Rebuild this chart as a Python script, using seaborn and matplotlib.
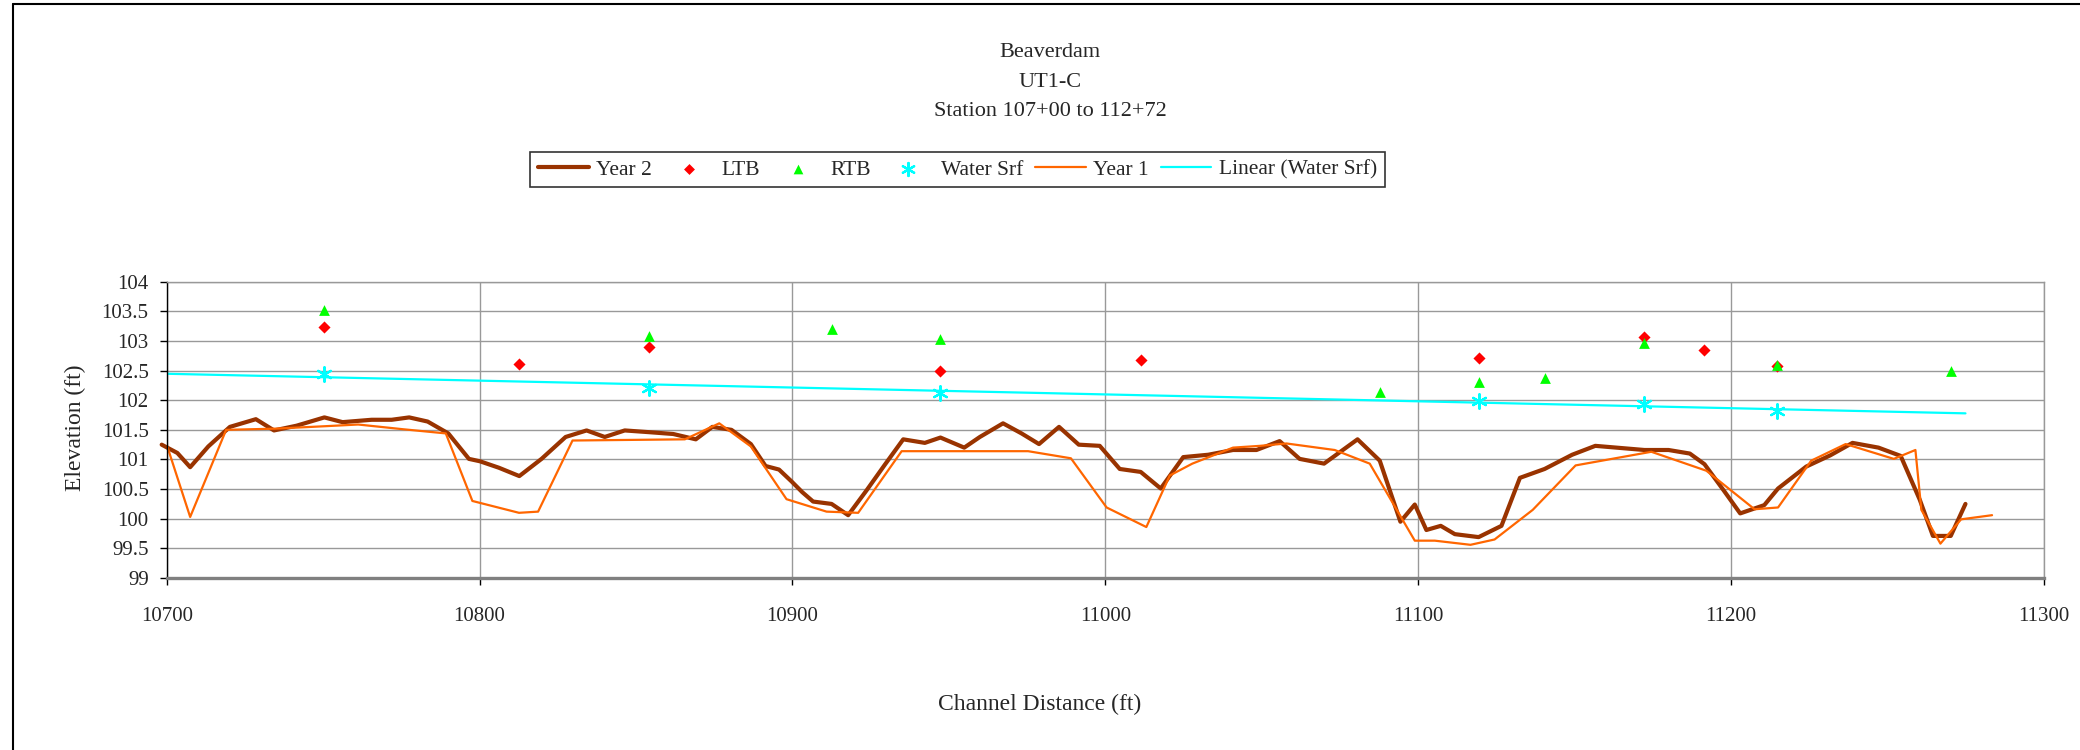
import numpy as np
import matplotlib
matplotlib.use('Agg')
import matplotlib.pyplot as plt
import seaborn as sns
from matplotlib.ticker import MultipleLocator, FormatStrFormatter
from matplotlib.lines import Line2D

# 데이터
year2_x = [10698.4, 10703.4, 10707.5, 10713.3, 10720.2, 10728.5, 10734.3, 10741.5, 10750.4, 10756.2,
           10765.5, 10771.9, 10777.5, 10783.4, 10790.0, 10796.6, 10800.1, 10806.2, 10812.7, 10819.8,
           10827.5, 10834.2, 10840.0, 10846.4, 10854.4, 10861.9, 10869.1, 10874.4, 10880.5, 10886.7,
           10891.4, 10895.7, 10899.7, 10903.1, 10906.6, 10912.5, 10917.8, 10923.7, 10929.5, 10935.4,
           10942.3, 10947.3, 10954.9, 10959.9, 10967.3, 10973.2, 10978.8, 10985.2, 10991.5, 10998.2,
           11004.6, 11011.3, 11017.7, 11024.9, 11032.9, 11040.8, 11048.3, 11055.7, 11062.1, 11069.9,
           11080.6, 11087.7, 11094.3, 11098.9, 11102.6, 11107.2, 11111.7, 11119.3, 11126.6, 11132.5,
           11140.4, 11149.2, 11156.6, 11172.3, 11180.0, 11186.8, 11191.5, 11197.6, 11202.9, 11210.6,
           11215.0, 11224.0, 11231.7, 11238.8, 11247.1, 11254.2, 11260.3, 11264.5, 11270.2, 11274.9]
year2_y = [101.25, 101.11, 100.87, 101.22, 101.55, 101.68, 101.49, 101.57, 101.71, 101.63,
           101.67, 101.67, 101.71, 101.64, 101.44, 101.01, 100.97, 100.86, 100.72, 101.01,
           101.38, 101.49, 101.38, 101.49, 101.46, 101.43, 101.34, 101.55, 101.50, 101.26,
           100.89, 100.83, 100.63, 100.45, 100.29, 100.25, 100.06, 100.48, 100.91, 101.34,
           101.28, 101.37, 101.20, 101.38, 101.61, 101.44, 101.26, 101.55, 101.25, 101.23,
           100.84, 100.79, 100.51, 101.04, 101.08, 101.16, 101.16, 101.31, 101.01, 100.93,
           101.34, 100.98, 99.95, 100.24, 99.81, 99.88, 99.74, 99.69, 99.88, 100.69,
           100.84, 101.08, 101.23, 101.16, 101.16, 101.10, 100.92, 100.48, 100.09, 100.23,
           100.51, 100.88, 101.07, 101.28, 101.20, 101.06, 100.32, 99.71, 99.71, 100.25]

year1_x = [10700.0, 10707.5, 10719.0, 10734.6, 10750.1, 10761.2, 10775.6, 10789.2, 10797.7, 10812.6,
           10818.7, 10829.7, 10865.6, 10876.6, 10886.7, 10898.1, 10910.9, 10921.0, 10934.9, 10975.3,
           10989.0, 11000.4, 11013.1, 11020.6, 11027.8, 11040.8, 11049.4, 11057.9, 11073.3, 11084.5,
           11098.9, 11105.3, 11116.7, 11124.4, 11136.6, 11150.3, 11174.5, 11192.1, 11207.5, 11215.0,
           11225.6, 11236.6, 11252.0, 11258.9, 11260.8, 11266.9, 11273.5, 11283.4]
year1_y = [101.25, 100.03, 101.50, 101.52, 101.56, 101.59, 101.51, 101.44, 100.30, 100.10,
           100.12, 101.32, 101.34, 101.61, 101.22, 100.33, 100.12, 100.10, 101.14, 101.14,
           101.02, 100.19, 99.86, 100.73, 100.93, 101.20, 101.23, 101.27, 101.16, 100.93,
           99.63, 99.63, 99.56, 99.65, 100.15, 100.90, 101.13, 100.81, 100.16, 100.19,
           100.98, 101.26, 101.01, 101.16, 100.15, 99.58, 99.99, 100.06]

ltb_x = [10750.3, 10812.6, 10854.2, 10947.3, 11011.3, 11119.4, 11172.0, 11191.4, 11214.8]
ltb_y = [103.24, 102.61, 102.89, 102.50, 102.68, 102.71, 103.07, 102.85, 102.58]

rtb_x = [10750.3, 10854.2, 10912.5, 10947.3, 11087.9, 11119.4, 11140.6, 11172.0, 11214.8, 11270.2]
rtb_y = [103.53, 103.09, 103.21, 103.03, 102.14, 102.31, 102.38, 102.97, 102.59, 102.50]

water_x = [10750.3, 10854.2, 10947.3, 11119.4, 11172.0, 11214.8]
water_y = [102.44, 102.21, 102.13, 101.99, 101.93, 101.82]

# 수면 선형 추세선
coef = np.polyfit(water_x, water_y, 1)
trend_x = [10700.0, year2_x[-1]]
trend_y = list(np.polyval(coef, trend_x))

sns.set_style('white')
plt.rcParams['font.family'] = ['Liberation Serif', 'DejaVu Serif']

fig = plt.figure(figsize=(20.8, 7.5), dpi=100)
ax = fig.add_axes([166.7 / 2080, 1 - 578 / 750, (2044 - 166.7) / 2080, (578 - 281.7) / 750])

sns.lineplot(x=year2_x, y=year2_y, ax=ax, color='#993300', lw=3.0, sort=False,
             estimator=None, label='Year 2', clip_on=False)
sns.scatterplot(x=ltb_x, y=ltb_y, ax=ax, marker='D', color='#FF0000', s=38,
                edgecolor='#FF0000', linewidth=0, label='LTB')
sns.scatterplot(x=rtb_x, y=rtb_y, ax=ax, marker='^', color='#00FF00', s=60,
                edgecolor='#00FF00', linewidth=0, label='RTB')
sns.scatterplot(x=water_x, y=water_y, ax=ax, marker=(6, 2, 0), color='#00FFFF', s=110,
                linewidth=1.6, label='Water Srf')
sns.lineplot(x=year1_x, y=year1_y, ax=ax, color='#FF6600', lw=1.6, sort=False,
             estimator=None, label='Year 1')
sns.lineplot(x=trend_x, y=trend_y, ax=ax, color='#00FFFF', lw=1.6, sort=False,
             estimator=None, label='Linear (Water Srf)')

ax.set_xlim(10700, 11300)
ax.set_ylim(99, 104)
ax.xaxis.set_major_locator(MultipleLocator(100))
ax.yaxis.set_major_locator(MultipleLocator(0.5))
ax.yaxis.set_major_formatter(FormatStrFormatter('%g'))
ax.grid(True, color='#999999', lw=1.0)
ax.set_axisbelow(True)
ax.set_xlabel('')
ax.set_ylabel('')

ax.spines['left'].set_color('black')
ax.spines['left'].set_linewidth(1.0)
ax.spines['bottom'].set_color('#808080')
ax.spines['bottom'].set_linewidth(2.4)
ax.spines['top'].set_color('#999999')
ax.spines['right'].set_color('#999999')
ax.spines['top'].set_linewidth(1.0)
ax.spines['right'].set_linewidth(1.0)

ax.tick_params(axis='both', direction='out', length=5, width=1, color='black',
               labelsize=15, bottom=True, left=True)
ax.tick_params(axis='x', pad=16)
ax.tick_params(axis='y', pad=8)

# 범례
handles, labels = ax.get_legend_handles_labels()
ax.get_legend().remove()
leg = fig.legend(handles, labels, ncol=6, loc='center',
                 bbox_to_anchor=(957.5 / 2080, 1 - 169.5 / 750),
                 frameon=True, fancybox=False, edgecolor='black', fontsize=15.5,
                 handlelength=2.35, handletextpad=0.35, columnspacing=0.55,
                 borderpad=0.35, markerscale=0.9)
leg.get_frame().set_linewidth(1.2)

# 제목 및 축 이름
fig.text(1050 / 2080, 1 - 56.7 / 750, 'Beaverdam', ha='center', va='baseline', fontsize=16)
fig.text(1050 / 2080, 1 - 86.7 / 750, 'UT1-C', ha='center', va='baseline', fontsize=16)
fig.text(1050 / 2080, 1 - 116 / 750, 'Station 107+00 to 112+72', ha='center', va='baseline', fontsize=16)
fig.text(75 / 2080, 1 - 428 / 750, 'Elevation (ft)', rotation=90, ha='center', va='center', fontsize=17)
fig.text(1040 / 2080, 1 - 704 / 750, 'Channel Distance (ft)', ha='center', va='center', fontsize=17)

# 차트 바깥 테두리
fig.add_artist(Line2D([12.7 / 2080, 1.0], [1 - 3.5 / 750] * 2, color='black', lw=1.5,
                      transform=fig.transFigure))
fig.add_artist(Line2D([12.7 / 2080] * 2, [0.0, 1 - 3.5 / 750], color='black', lw=1.5,
                      transform=fig.transFigure))

fig.savefig('out.png', dpi=100)
